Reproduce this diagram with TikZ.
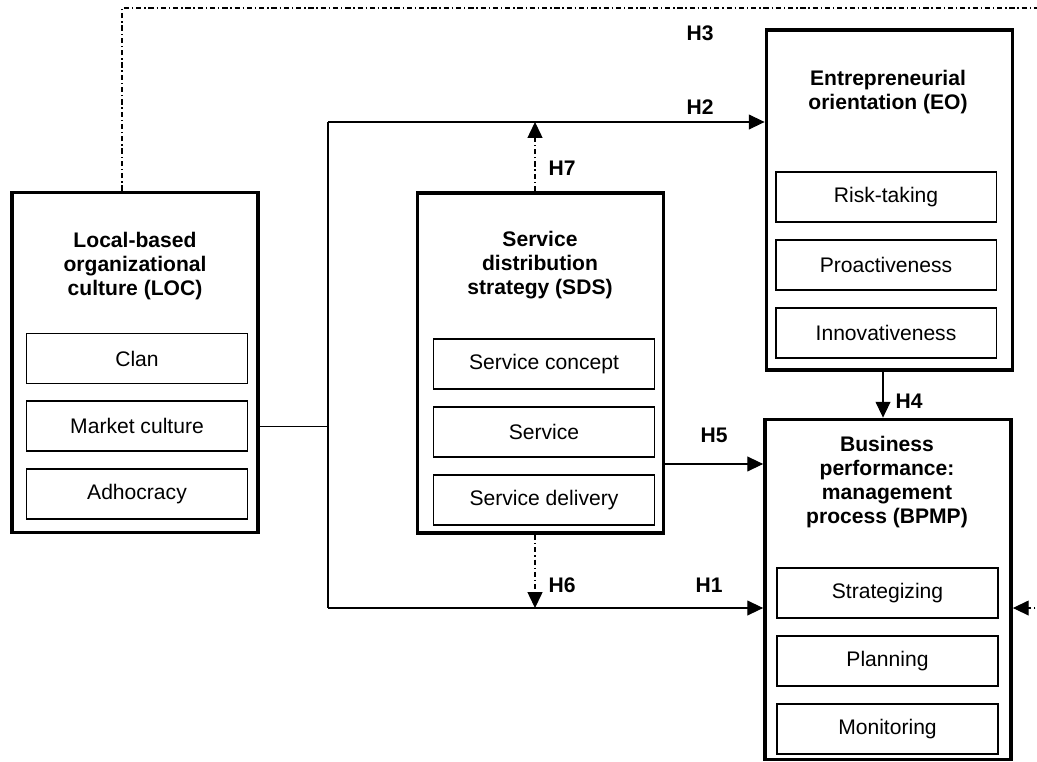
\documentclass[tikz,border=0pt]{standalone}
\usepackage{fontspec}
\setmainfont{Liberation Sans}
\usetikzlibrary{positioning,arrows.meta}
\tikzstyle{bigbox} = [draw=black, line width=2.2pt, rectangle,
    minimum width=4.92cm, minimum height=6.8cm, inner sep=0pt]
\tikzstyle{itembox} = [draw=black, line width=1.1pt, rectangle,
    minimum width=4.42cm, minimum height=1cm, inner sep=0pt, font=\fontsize{12}{14}\selectfont]
\tikzstyle{headtitle} = [align=center, font=\fontsize{12}{13.5}\selectfont\bfseries]
\tikzstyle{hlabel} = [font=\fontsize{12}{14}\selectfont\bfseries, inner sep=0pt]
\tikzstyle{wire} = [line width=0.6pt]
\tikzstyle{link} = [wire, -{Triangle[length=9pt,width=8.5pt]}]
\tikzstyle{dashlink} = [link, dash pattern=on 3pt off 1.6pt on 0.8pt off 1.6pt]

\begin{document}
\begin{tikzpicture}[x=0.02cm, y=-0.02cm]
    \useasboundingbox (0,0) rectangle (1037,761);

    % constructs
    \node [bigbox] (loc) at (135,362.5) {};
    \node [bigbox] (sds) at (540.5,363) {};
    \node [bigbox] (eo) at (889.5,200) {};
    \node [bigbox] (bpmp) at (888,589.5) {};

    \node [headtitle] (loctitle) at (135,266) {Local-based\\organizational\\culture (LOC)};
    \node [headtitle] (sdstitle) at (540,265) {Service\\distribution\\strategy (SDS)};
    \node [headtitle] (eotitle) at (888,92) {Entrepreneurial\\orientation (EO)};
    \node [headtitle] (bpmptitle) at (887,482) {Business\\performance:\\management\\process (BPMP)};

    % dimensions
    \node [itembox] (clan) at (137,358.5) {Clan};
    \node [itembox, below=0.32cm of clan] (market) {Market culture};
    \node [itembox, below=0.32cm of market] (adhoc) {Adhocracy};

    \node [itembox] (concept) at (544,364) {Service concept};
    \node [itembox, below=0.32cm of concept] (service) {Service};
    \node [itembox, below=0.32cm of service] (delivery) {Service delivery};

    \node [itembox] (risk) at (886,197) {Risk-taking};
    \node [itembox, below=0.32cm of risk] (proact) {Proactiveness};
    \node [itembox, below=0.32cm of proact] (innov) {Innovativeness};

    \node [itembox] (strat) at (887.5,593) {Strategizing};
    \node [itembox, below=0.32cm of strat] (plan) {Planning};
    \node [itembox, below=0.32cm of plan] (monitor) {Monitoring};

    % hypotheses
    \coordinate (top) at (328,122);
    \coordinate (bottom) at (328,608);
    \coordinate (corner) at (1040,8);
    \coordinate (hfive) at ([yshift=-2.02cm]sds.east);
    \coordinate (sdsup) at ([xshift=-0.11cm]sds.north);
    \coordinate (sdsdown) at ([xshift=-0.11cm]sds.south);
    \coordinate (eodown) at ([xshift=-0.13cm]eo.south);

    \draw [wire] (loc.east |- market) -- (top |- market);
    \draw [wire] (top) -- (bottom);
    \draw [link] (top) -- (top -| eo.west);
    \draw [link] (bottom) -- (bottom -| bpmp.west);
    \draw [dashlink] (sdsup) -- (sdsup |- top);
    \draw [dashlink] (sdsdown) -- (sdsdown |- bottom);
    \draw [link] (hfive) -- (hfive -| bpmp.west);
    \draw [link] (eodown) -- (eodown |- bpmp.north);
    \draw [dashlink] ([xshift=-0.26cm]loc.north) |- (corner) |- (bottom -| bpmp.east);

    \node [hlabel] (hone) at (709,585.5) {H1};
    \node [hlabel] (htwo) at (700,107) {H2};
    \node [hlabel] (hthree) at (700,33) {H3};
    \node [hlabel] (hfour) at (909,401) {H4};
    \node [hlabel] (hfivelbl) at (714,435) {H5};
    \node [hlabel] (hsix) at (562,585) {H6};
    \node [hlabel] (hseven) at (562,168) {H7};
\end{tikzpicture}
\end{document}
